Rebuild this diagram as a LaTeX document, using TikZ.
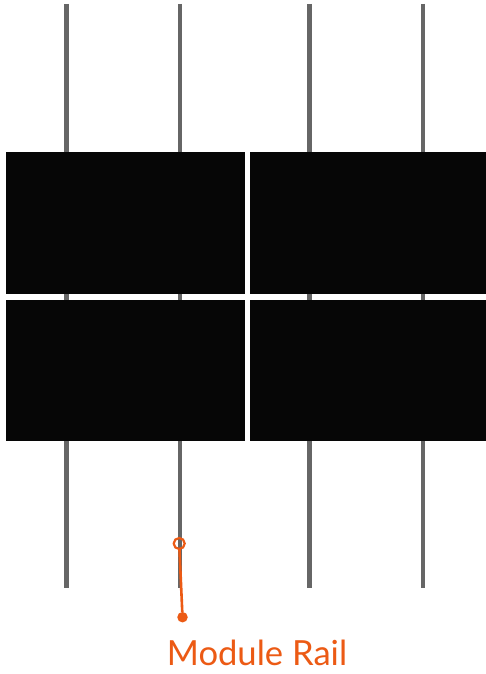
\documentclass[tikz,border=0pt]{standalone}
\usepackage{fontspec}
\setmainfont{Lato}
\definecolor{railgray}{HTML}{666666}
\definecolor{panelblack}{HTML}{060606}
\definecolor{callout}{HTML}{EC5A14}
\tikzset{
  rail/.style={draw=railgray,line width=4.2pt},
  panel/.style={fill=panelblack,draw=none,inner sep=0pt,outer sep=0pt,minimum width=#1,minimum height=141.5pt},
  leader/.style={draw=callout,line width=2.6pt},
  ringmark/.style={circle,draw=callout,line width=2.2pt,fill=none,minimum size=11pt,inner sep=0pt,outer sep=0pt},
  dotmark/.style={circle,fill=callout,draw=none,minimum size=10.5pt,inner sep=0pt,outer sep=0pt},
  calloutlabel/.style={text=callout,font=\fontsize{34.6}{38}\selectfont,inner sep=0pt,anchor=base}
}
\begin{document}
\begin{tikzpicture}[x=1pt,y=-1pt]
\useasboundingbox (0,0) rectangle (486,674);
\fill[white] (0,0) rectangle (486,674);
\foreach \n/\x in {a/66.5,b/180,c/309.5,d/423}{
  \coordinate (top\n) at (\x,4);
  \coordinate (bot\n) at (\x,588);
  \draw[rail] (top\n) -- (bot\n);
}
\node[panel=238.5pt] (p1) at (125.25,222.75) {};
\node[panel=236.5pt] (p2) at (368.25,222.75) {};
\node[panel=238.5pt] (p3) at (125.25,370.25) {};
\node[panel=236.5pt] (p4) at (368.25,370.25) {};
\node[ringmark] (ring) at (179.2,543.5) {};
\node[dotmark] (dot) at (182.5,617.2) {};
\draw[leader] (ring) -- (dot);
\node[calloutlabel] (lab) at (257,665) {Module Rail};
\end{tikzpicture}
\end{document}
